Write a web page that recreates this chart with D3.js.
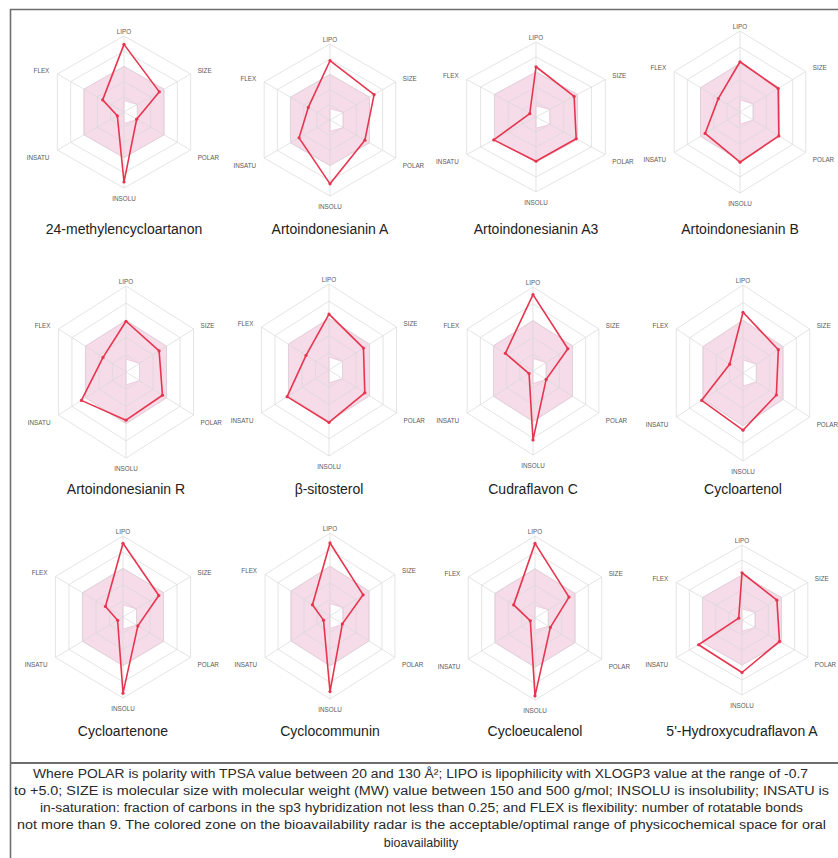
<!DOCTYPE html>
<html>
<head>
<meta charset="utf-8">
<script src="https://cdn.jsdelivr.net/npm/d3@7"></script>
<style>
  body { margin: 0; background: #fff; }
  svg { display: block; font-family: "Liberation Sans", Arial, sans-serif; }
</style>
</head>
<body>
<div id="container"></div>
<script>
/* DATA */
const axes = ["LIPO", "SIZE", "POLAR", "INSOLU", "INSATU", "FLEX"]

const compounds = [
  "24-methylencycloartanon", "Artoindonesianin A", "Artoindonesianin A3", "Artoindonesianin B",
  "Artoindonesianin R", "β-sitosterol", "Cudraflavon C", "Cycloartenol",
  "Cycloartenone", "Cyclocommunin", "Cycloeucalenol", "5'-Hydroxycudraflavon A"
]

// normalised radar values (0 = centre, 1 = outer ring)
const lipo   = [0.89, 0.78, 0.67, 0.62, 0.59, 0.65, 0.91, 0.69, 0.91, 0.88, 0.91, 0.63]
const size   = [0.53, 0.67, 0.55, 0.58, 0.49, 0.51, 0.53, 0.53, 0.53, 0.51, 0.51, 0.53]
const polar  = [0.19, 0.53, 0.58, 0.59, 0.54, 0.53, 0.20, 0.50, 0.22, 0.19, 0.23, 0.57]
const insolu = [0.92, 0.84, 0.59, 0.62, 0.56, 0.61, 0.82, 0.65, 0.94, 0.91, 0.95, 0.70]
const insatu = [0.10, 0.47, 0.61, 0.53, 0.66, 0.62, 0.06, 0.62, 0.08, 0.10, 0.07, 0.66]
const flex   = [0.32, 0.33, 0.09, 0.33, 0.34, 0.34, 0.42, 0.20, 0.26, 0.27, 0.32, 0.05]

// optimal (pink) zone per axis, and the rings of the grid
const optimalMax = [0.6, 0.6, 0.6, 0.6, 0.6, 0.6]
const optimalMin = [0.15, 0.2, 0.2, 0.15, 0, 0]
const gridLevels = [0.2, 0.4, 0.6, 0.8, 1]

const captionLines = [
  "Where POLAR is polarity with TPSA value between 20 and 130 Å²; LIPO is lipophilicity with XLOGP3 value at the range of -0.7",
  "to +5.0; SIZE is molecular size with molecular weight (MW) value between 150 and 500 g/mol; INSOLU is insolubility; INSATU is",
  "in-saturation: fraction of carbons in the sp3 hybridization not less than 0.25; and FLEX is flexibility: number of rotatable bonds",
  "not more than 9. The colored zone on the bioavailability radar is the acceptable/optimal range of physicochemical space for oral",
  "bioavailability"
]

/* LAYOUT */
const width = 838, height = 858
// each radar was pasted at a slightly different scale
const panels = [
  { cx: 124, cy: 112, rx: 77, ry: 76 }, { cx: 330, cy: 120, rx: 76, ry: 76 },
  { cx: 536, cy: 117, rx: 80, ry: 75 }, { cx: 740, cy: 112, rx: 76, ry: 81 },
  { cx: 126, cy: 372, rx: 78, ry: 86 }, { cx: 329, cy: 370, rx: 78, ry: 86 },
  { cx: 533, cy: 371, rx: 76, ry: 84 }, { cx: 743, cy: 373, rx: 77, ry: 88 },
  { cx: 123, cy: 617, rx: 78, ry: 81 }, { cx: 330, cy: 616, rx: 75, ry: 83 },
  { cx: 535, cy: 618, rx: 77, ry: 82 }, { cx: 742, cy: 620, rx: 76, ry: 75 }
]
const titleY = [234, 494, 736]
const captionY = [778, 795, 812, 829, 847]
const captionSpan = [[33, 808], [14, 829], [40, 803], [17, 826], null]

const red = "#e8354f"

const svg = d3.select("#container")
  .append("svg")
  .attr("width", width)
  .attr("height", height)

// frame
svg.append("path")
  .attr("d", `M10.5,${height} V9.5 H${width}`)
  .attr("fill", "none")
  .attr("stroke", "#6e6e6e")
  .attr("stroke-width", 1.6)

svg.append("line")
  .attr("x1", 10).attr("x2", width)
  .attr("y1", 763).attr("y2", 763)
  .attr("stroke", "#6e6e6e")
  .attr("stroke-width", 2.2)

const angle = i => i * Math.PI / 3
const closed = d3.line().curve(d3.curveLinearClosed)

compounds.forEach((name, k) => {
  const p = panels[k]
  const sx = d3.scaleLinear().domain([-1, 1]).range([p.cx - p.rx, p.cx + p.rx])
  const sy = d3.scaleLinear().domain([-1, 1]).range([p.cy - p.ry, p.cy + p.ry])
  const pt = (v, i) => [sx(v * Math.sin(angle(i))), sy(-v * Math.cos(angle(i)))]

  const g = svg.append("g").attr("class", "radar")

  // optimal zone with the hole in the middle
  g.append("path")
    .attr("d", closed(optimalMax.map(pt)) + closed(optimalMin.map(pt)))
    .attr("fill", "#f6dbe9")
    .attr("fill-rule", "evenodd")
    .attr("stroke", "#edbfd7")
    .attr("stroke-width", 0.8)

  // grid rings and spokes
  g.selectAll(".ring")
    .data(gridLevels)
    .join("path")
    .attr("class", "ring")
    .attr("d", lv => closed(axes.map((a, i) => pt(lv, i))))
    .attr("fill", "none")
    .attr("stroke", "#d9d9d9")
    .attr("stroke-width", 0.7)

  g.selectAll(".spoke")
    .data(axes)
    .join("line")
    .attr("class", "spoke")
    .attr("x1", p.cx).attr("y1", p.cy)
    .attr("x2", (a, i) => pt(1, i)[0])
    .attr("y2", (a, i) => pt(1, i)[1])
    .attr("stroke", "#d9d9d9")
    .attr("stroke-width", 0.7)

  // axis labels
  const labelPos = [
    { dx: 0, dy: -5, anchor: "middle" },
    { dx: 7, dy: -4, anchor: "start" },
    { dx: 7, dy: 7, anchor: "start" },
    { dx: 0, dy: 10, anchor: "middle" },
    { dx: -8, dy: 7, anchor: "end" },
    { dx: -8, dy: -4, anchor: "end" }
  ]
  g.selectAll(".axisLabel")
    .data(axes)
    .join("text")
    .attr("class", "axisLabel")
    .attr("x", (a, i) => pt(1, i)[0] + labelPos[i].dx)
    .attr("y", (a, i) => pt(1, i)[1] + labelPos[i].dy)
    .attr("text-anchor", (a, i) => labelPos[i].anchor)
    .attr("dominant-baseline", "central")
    .attr("font-size", 6.3)
    .attr("fill", "#5a5a5a")
    .text(a => a)

  // compound polygon
  const values = [lipo[k], size[k], polar[k], insolu[k], insatu[k], flex[k]]
  g.append("path")
    .attr("d", closed(values.map(pt)))
    .attr("fill", "none")
    .attr("stroke", red)
    .attr("stroke-width", 1.6)
    .attr("stroke-linejoin", "round")

  g.selectAll(".dot")
    .data(values)
    .join("circle")
    .attr("class", "dot")
    .attr("cx", (v, i) => pt(v, i)[0])
    .attr("cy", (v, i) => pt(v, i)[1])
    .attr("r", 1.6)
    .attr("fill", red)

  svg.append("text")
    .attr("x", p.cx)
    .attr("y", titleY[Math.floor(k / 4)])
    .attr("text-anchor", "middle")
    .attr("font-size", 14)
    .attr("fill", "#222")
    .text(name)
})

// caption under the panels
svg.selectAll(".caption")
  .data(captionLines)
  .join("text")
  .attr("class", "caption")
  .attr("x", (d, i) => captionSpan[i] ? captionSpan[i][0] : 421)
  .attr("y", (d, i) => captionY[i])
  .attr("text-anchor", (d, i) => captionSpan[i] ? "start" : "middle")
  .attr("textLength", (d, i) => captionSpan[i] ? captionSpan[i][1] - captionSpan[i][0] : null)
  .attr("lengthAdjust", "spacingAndGlyphs")
  .attr("font-size", 12.5)
  .attr("fill", "#2a2a2a")
  .text(d => d)
</script>
</body>
</html>
